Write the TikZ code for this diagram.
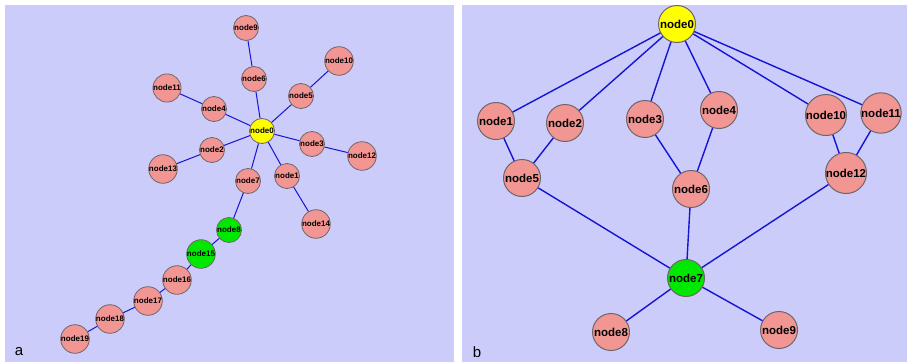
\documentclass[tikz,border=0pt]{standalone}
\usepackage{fontspec}
\setmainfont{Liberation Sans}
\begin{document}
\begin{tikzpicture}[x=1pt,y=-1pt,
  nodea/.style={circle,draw=bordcol,line width=0.8pt,minimum size=25pt,inner sep=0pt,font=\fontsize{8}{9}\selectfont\bfseries,fill=pinkcol},
  nodeb/.style={circle,draw=bordcol,line width=1pt,minimum size=37pt,inner sep=0pt,font=\fontsize{11.5}{12}\selectfont\bfseries,fill=pinkcol},
  yel/.style={fill=yelcol},
  grn/.style={fill=grncol},
  edgea/.style={draw=edgecol,line width=1pt},
  edgeb/.style={draw=edgecol,line width=1.4pt},
  plabel/.style={font=\fontsize{15}{16}\selectfont,anchor=center}]
\definecolor{bgcol}{RGB}{204,204,250}
\definecolor{pinkcol}{RGB}{242,150,148}
\definecolor{bordcol}{RGB}{110,100,105}
\definecolor{edgecol}{RGB}{20,20,210}
\definecolor{yelcol}{RGB}{255,255,0}
\definecolor{grncol}{RGB}{0,232,0}
\useasboundingbox (0,0) rectangle (907,362);
\fill[white] (0,0) rectangle (907,362);
\fill[bgcol] (5,5) rectangle (454,362);
\fill[bgcol] (462,5) rectangle (907,362);
% panel a
\node[nodea,yel] (a0) at (262,131) {node0};
\node[nodea] (a1) at (287,176) {node1};
\node[nodea] (a2) at (212,150) {node2};
\node[nodea] (a3) at (312,144) {node3};
\node[nodea] (a4) at (214,109) {node4};
\node[nodea] (a5) at (301,96) {node5};
\node[nodea] (a6) at (254,79) {node6};
\node[nodea] (a7) at (248,181) {node7};
\node[nodea,grn] (a8) at (229,230) {node8};
\node[nodea] (a9) at (246,28) {node9};
\node[nodea] (a10) at (339,61) {node10};
\node[nodea] (a11) at (167,88) {node11};
\node[nodea] (a12) at (362,156) {node12};
\node[nodea] (a13) at (163,169) {node13};
\node[nodea] (a14) at (316,224) {node14};
\node[nodea,grn] (a15) at (201,254) {node15};
\node[nodea] (a16) at (177,280) {node16};
\node[nodea] (a17) at (148,301) {node17};
\node[nodea] (a18) at (110,319) {node18};
\node[nodea] (a19) at (75,339) {node19};
\foreach \u/\v in {a0/a1,a0/a2,a0/a3,a0/a4,a0/a5,a0/a6,a0/a7,a6/a9,a5/a10,a4/a11,a3/a12,a2/a13,a1/a14,a7/a8,a8/a15,a15/a16,a16/a17,a17/a18,a18/a19}
  \draw[edgea] (\u) -- (\v);
\node[plabel] (la) at (19,352) {a};
% panel b
\node[nodeb,yel] (b0) at (677,24) {node0};
\node[nodeb] (b1) at (496,121) {node1};
\node[nodeb] (b2) at (565,123) {node2};
\node[nodeb] (b3) at (645,119) {node3};
\node[nodeb] (b4) at (719,110) {node4};
\node[nodeb] (b10) at (826,115) {node10};
\node[nodeb] (b11) at (881,113) {node11};
\node[nodeb] (b5) at (522,178) {node5};
\node[nodeb] (b6) at (691,189) {node6};
\node[nodeb] (b12) at (846,173) {node12};
\node[nodeb,grn] (b7) at (686,278) {node7};
\node[nodeb] (b8) at (611,332) {node8};
\node[nodeb] (b9) at (779,330) {node9};
\foreach \u/\v in {b0/b1,b0/b2,b0/b3,b0/b4,b0/b10,b0/b11,b1/b5,b2/b5,b3/b6,b4/b6,b10/b12,b11/b12,b5/b7,b6/b7,b12/b7,b7/b8,b7/b9}
  \draw[edgeb] (\u) -- (\v);
\node[plabel] (lb) at (477,352) {b};
\end{tikzpicture}
\end{document}
